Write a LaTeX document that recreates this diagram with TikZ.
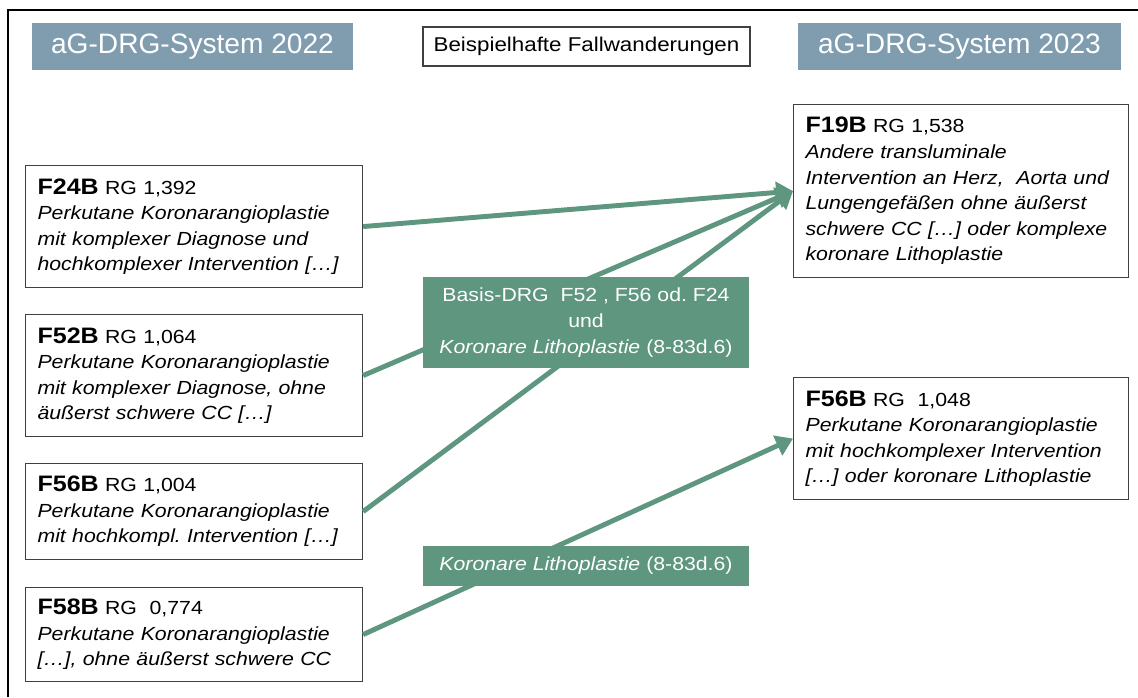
\documentclass[tikz,border=0pt]{standalone}
\usepackage{fontspec}
\setmainfont{Liberation Sans}
\newfontfamily\boxfont{Liberation Sans}[FakeStretch=1.12]
\usetikzlibrary{arrows.meta}
\frenchspacing

\definecolor{headblue}{RGB}{128,156,175}
\definecolor{flowgreen}{RGB}{94,150,128}
\definecolor{boxgray}{RGB}{64,64,64}

\newcommand{\drgcode}[1]{{\fontsize{15.9pt}{18.2pt}\selectfont\bfseries #1}}

\tikzset{
  headbox/.style={fill=headblue, text=white, inner sep=0pt, minimum height=11.75mm,
    font=\fontsize{20pt}{24pt}\selectfont},
  titlebox/.style={draw=boxgray, line width=0.8pt, fill=white, inner sep=0pt,
    minimum width=81.75mm, minimum height=9.75mm, font=\boxfont\fontsize{14.2pt}{18pt}\selectfont},
  drgbox/.style={draw=boxgray, line width=0.8pt, fill=white, anchor=north west,
    inner xsep=3mm, inner ysep=0pt, text width=78.25mm, align=left,
    font=\boxfont\fontsize{13.5pt}{18.2pt}\selectfont},
  newbox/.style={drgbox, text width=77.75mm},
  rulebox/.style={fill=flowgreen, text=white, inner sep=0pt, align=center,
    minimum width=81.5mm, font=\boxfont\fontsize{13.5pt}{18.6pt}\selectfont},
  flow/.style={draw=flowgreen, line width=3.5pt, -{Triangle[length=12pt,width=15pt]}}
}

\begin{document}
\begin{tikzpicture}[x=0.25mm, y=-0.25mm]
  \useasboundingbox (0,0) rectangle (1138,697);
  % frame
  \draw[line width=1.4pt] (8,697) -- (8,10) -- (1138,10);

  % headers
  \node[headbox, minimum width=80.25mm] (sys22) at (192.5,46.5) {aG-DRG-System 2022};
  \node[titlebox] (title) at (586.5,46.5) {Beispielhafte Fallwanderungen};
  \node[headbox, minimum width=80.75mm] (sys23) at (959.5,46.5) {aG-DRG-System 2023};

  % 2022
  \node[drgbox, minimum height=30.5mm] (f24b) at (25,165)
    {\drgcode{F24B} RG 1,392\\ \itshape Perkutane Koronarangioplastie\\ mit komplexer Diagnose und\\ hochkomplexer Intervention […]};
  \node[drgbox, minimum height=30.5mm] (f52b) at (25,314)
    {\drgcode{F52B} RG 1,064\\ \itshape Perkutane Koronarangioplastie\\ mit komplexer Diagnose, ohne\\ äußerst schwere CC […]};
  \node[drgbox, minimum height=24mm] (f56b) at (25,463)
    {\drgcode{F56B} RG 1,004\\ \itshape Perkutane Koronarangioplastie\\ mit hochkompl. Intervention […]};
  \node[drgbox, minimum height=23.5mm] (f58b) at (25,587)
    {\drgcode{F58B} RG~~0,774\\ \itshape Perkutane Koronarangioplastie\\ {}[…], ohne äußerst schwere CC};

  % 2023
  \node[newbox, minimum height=43.25mm] (f19b) at (793,104)
    {\drgcode{F19B} RG 1,538\\ \itshape Andere transluminale\\ Intervention an Herz,~~Aorta und\\ Lungengefäßen ohne äußerst\\ schwere CC […] oder komplexe\\ koronare Lithoplastie};
  \node[newbox, minimum height=30.5mm] (f56bnew) at (793,377)
    {\drgcode{F56B} RG~~1,048\\ \itshape Perkutane Koronarangioplastie\\ mit hochkomplexer Intervention\\ {}[…] oder koronare Lithoplastie};

  % Fallwanderungen
  \draw[flow] (f24b.east) -- (f19b.west);
  \draw[flow] (f52b.east) -- (f19b.west);
  \draw[flow] (f56b.east) -- (f19b.west);
  \draw[flow] (f58b.east) -- (f56bnew.west);

  \node[rulebox, minimum height=22.75mm] (basis) at (586,322.5)
    {Basis-DRG~~F52 , F56 od. F24\\ und\\ \textit{Koronare Lithoplastie} (8-83d.6)};
  \node[rulebox, minimum height=10mm] (litho) at (586,566)
    {\textit{Koronare Lithoplastie} (8-83d.6)};
\end{tikzpicture}
\end{document}
